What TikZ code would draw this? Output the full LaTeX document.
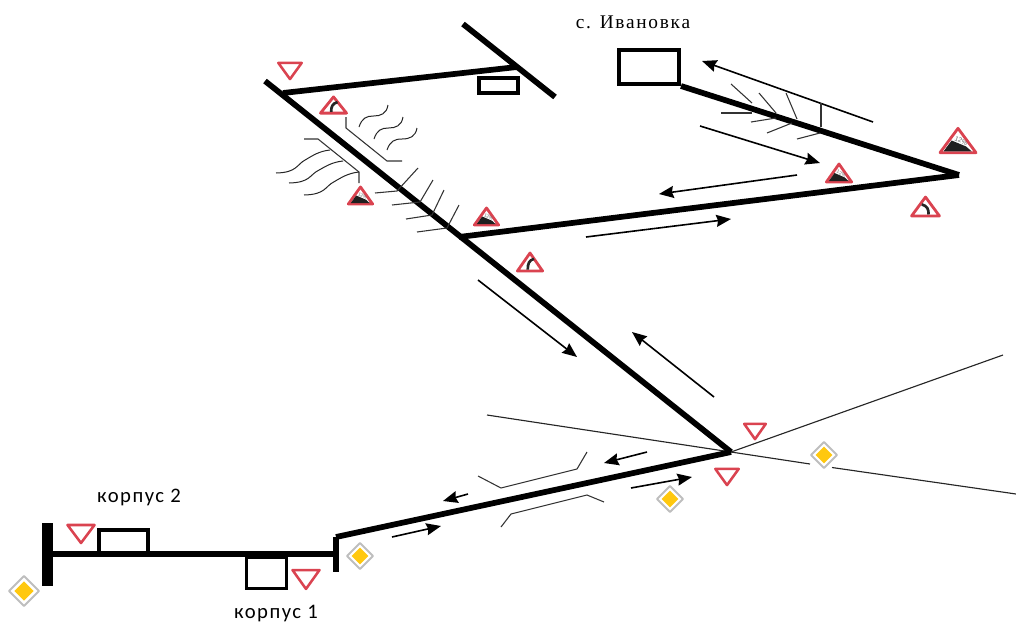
\documentclass[tikz,border=0pt]{standalone}
\usepackage{fontspec}
\setmainfont[LetterSpace=9]{Liberation Serif}
\newfontfamily\labelfont[LetterSpace=7]{Carlito}
\newfontfamily\gradefont{Liberation Sans}
\usetikzlibrary{arrows.meta}
\definecolor{signred}{HTML}{DA4350}
\definecolor{signyellow}{HTML}{FFC80F}
\definecolor{signgrey}{HTML}{BEBEBE}
\tikzset{
  road/.style={line width=4.3pt,black},
  thinrd/.style={line width=0.85pt,black!85},
  barrier/.style={line width=0.8pt,black!80},
  move/.style={line width=1.2pt,black,-{Stealth[length=11pt,width=9pt,inset=1.2pt]}},
  house/.style={draw=black,line width=3pt,inner sep=0pt,fill=white},
  waveline/.style={line width=0.75pt,black!85},
  yieldsign/.style={draw=signred,line width=1.9pt,fill=white,line join=round},
  warnsign/.style={draw=signred,line width=2.1pt,fill=white,line join=round},
}
% x left, y top, width, height (px)
\newcommand{\signyield}[4]{\begin{scope}[shift={(#1,#2)},x={#3*0.75pt},y={-#4*0.75pt}]
  \draw[yieldsign] (0.05,0.05) -- (0.95,0.05) -- (0.5,0.95) -- cycle;\end{scope}}
\newcommand{\signslope}[5]{\begin{scope}[shift={(#1,#2)},x={#3*0.75pt},y={-#4*0.75pt}]
  \draw[warnsign] (0.05,0.95) -- (0.5,0.05) -- (0.95,0.95) -- cycle;
  \fill[black!88] (0.14,0.9) -- (0.84,0.9) -- (0.7,0.72) -- (0.34,0.5) -- cycle;
  \node[rotate=-24,inner sep=0pt,text=black!60,font=\gradefont\fontsize{#5}{#5}\selectfont] (grade#1) at (0.58,0.52) {12\%};
  \end{scope}}
\newcommand{\signcurve}[5]{\begin{scope}[shift={(#1,#2)},x={#3*0.75pt},y={-#4*0.75pt}]
  \draw[warnsign] (0.05,0.95) -- (0.5,0.05) -- (0.95,0.95) -- cycle;
  \ifnum#5=1
    \draw[line width=2pt,black!85] (0.42,0.88) .. controls (0.42,0.58) and (0.46,0.42) .. (0.64,0.34);
  \else
    \draw[line width=2pt,black!85] (0.6,0.88) .. controls (0.6,0.62) and (0.56,0.48) .. (0.38,0.4);
  \fi
  \end{scope}}
\newcommand{\signmain}[3]{\begin{scope}[shift={(#1,#2)}]
  \draw[signgrey,line width=1.5pt,fill=white,line join=round] (-#3,0) -- (0,-#3) -- (#3,0) -- (0,#3) -- cycle;
  \fill[signyellow] (-#3*0.64,0) -- (0,-#3*0.64) -- (#3*0.64,0) -- (0,#3*0.64) -- cycle;
  \end{scope}}
% start point, extent
\newcommand{\waveA}[4]{\begin{scope}[shift={(#1,#2)},x={#3*0.75pt},y={-#4*0.75pt}]
  \draw[waveline] (0,0) .. controls (0.4,0.02) and (0.38,0.38) .. (0.55,0.58) .. controls (0.68,0.76) and (0.8,0.95) .. (1,1);\end{scope}}
\newcommand{\waveB}[4]{\begin{scope}[shift={(#1,#2)},x={#3*0.75pt},y={-#4*0.75pt}]
  \draw[waveline] (0,0) .. controls (0.1,0.4) and (0.25,0.5) .. (0.5,0.5) .. controls (0.75,0.5) and (0.95,0.6) .. (1,1);\end{scope}}
\begin{document}
\begin{tikzpicture}[x=0.75pt,y=-0.75pt]
\useasboundingbox (0,0) rectangle (1016,625);
% junctions
\coordinate (mainTop) at (265,81);
\coordinate (topJ) at (283,93);
\coordinate (midJ) at (459,237);
\coordinate (cross) at (731,452);
\coordinate (apex) at (959,175);
\coordinate (crossA) at (463,24);
\coordinate (crossB) at (555,97);
\coordinate (crossJ) at (517,67);
\coordinate (bend) at (336,537);
\coordinate (barTop) at (336,537);
\coordinate (barBot) at (336,572);
\coordinate (barMid) at (336,554);
\coordinate (leftMid) at (50,554);
\coordinate (leftTop) at (47.5,523);
\coordinate (leftBot) at (47.5,586);
% thin side roads
\coordinate (thinW) at (487,415);
\coordinate (thinNE) at (1003,355);
\coordinate (thinG) at (810,464);
\coordinate (thinH) at (832,467.5);
\coordinate (thinE) at (1016,494);
\draw[thinrd] (thinW) -- (cross);
\draw[thinrd] (cross) -- (thinNE);
\draw[thinrd] (cross) -- (thinG);
\draw[thinrd] (thinH) -- (thinE);
% buildings
\node[house,minimum width=60pt*0.75,minimum height=34pt*0.75] (ivanovkaBox) at (649,67) {};
\node[house,minimum width=39pt*0.75,minimum height=15pt*0.75] (shopBox) at (498.5,85) {};
\node[house,minimum width=49pt*0.75,minimum height=24pt*0.75] (k2Box) at (123.5,542) {};
\node[house,line width=2pt,minimum width=40pt*0.75,minimum height=31pt*0.75] (k1Box) at (266.5,573) {};
% main roads
\draw[road] (mainTop) -- (cross);
\draw[road] (topJ) -- (crossJ);
\draw[road] (crossA) -- (crossB);
\draw[road] (ivanovkaBox.south east) -- (apex);
\draw[road] (apex) -- (midJ);
\draw[road] (cross) -- (bend);
\draw[road] (leftMid) -- (barMid);
\draw[line width=4.4pt] (barTop) -- (barBot);
\draw[line width=8.2pt] (leftTop) -- (leftBot);
% movement arrows
\coordinate (m1a) at (478,280); \coordinate (m1b) at (577,357);
\coordinate (m2a) at (714,397); \coordinate (m2b) at (632,332);
\coordinate (m3a) at (873,122); \coordinate (m3b) at (702,61);
\coordinate (m4a) at (700,126); \coordinate (m4b) at (820,163);
\coordinate (m5a) at (797,175); \coordinate (m5b) at (659,194);
\coordinate (m6a) at (586,237); \coordinate (m6b) at (731,219);
\coordinate (m7a) at (647,452); \coordinate (m7b) at (604,463);
\coordinate (m8a) at (468,494); \coordinate (m8b) at (443,501);
\coordinate (m9a) at (631,488); \coordinate (m9b) at (692,477);
\coordinate (m10a) at (392,537); \coordinate (m10b) at (441,526);
\foreach \n in {1,...,10} \draw[move] (m\n a) -- (m\n b);
% barriers
\coordinate (b1) at (478,476); \coordinate (b2) at (501,488); \coordinate (b3) at (577,469); \coordinate (b4) at (587,452);
\coordinate (c1) at (501,527); \coordinate (c2) at (511,514); \coordinate (c3) at (587,495); \coordinate (c4) at (604,502);
\coordinate (d1) at (346,117); \coordinate (d2) at (346,128); \coordinate (d3) at (387,161); \coordinate (d4) at (402,161);
\coordinate (e1) at (304,139); \coordinate (e2) at (318,139); \coordinate (e3) at (359,172); \coordinate (e4) at (359,183);
\draw[barrier] (b1) -- (b2) -- (b3) -- (b4);
\draw[barrier] (c1) -- (c2) -- (c3) -- (c4);
\draw[barrier] (d1) -- (d2) -- (d3) -- (d4);
\draw[barrier] (e1) -- (e2) -- (e3) -- (e4);
% fishbones on the main road
\coordinate (f1) at (375,193); \coordinate (f2) at (397,191); \coordinate (f3) at (418,168);
\coordinate (g1) at (392,205); \coordinate (g2) at (420,202); \coordinate (g3) at (433,180);
\coordinate (h1) at (406,219); \coordinate (h2) at (432,215); \coordinate (h3) at (444,190);
\coordinate (i1) at (417,232); \coordinate (i2) at (447,228); \coordinate (i3) at (459,205);
\draw[barrier] (f1) -- (f2) -- (f3);
\draw[barrier] (g1) -- (g2) -- (g3);
\draw[barrier] (h1) -- (h2) -- (h3);
\draw[barrier] (i1) -- (i2) -- (i3);
% fishbones on the Ivanovka road
\coordinate (j1) at (731,84); \coordinate (j2) at (752,103);
\coordinate (j3) at (721,113); \coordinate (j4) at (752,113);
\coordinate (j5) at (759,93); \coordinate (j6) at (776,113);
\coordinate (j7) at (751,122); \coordinate (j8) at (776,118);
\coordinate (j9) at (786,93); \coordinate (j10) at (797,119);
\coordinate (j11) at (767,133); \coordinate (j12) at (792,123);
\coordinate (j13) at (821,103); \coordinate (j14) at (821,127);
\coordinate (j15) at (797,139); \coordinate (j16) at (820,133);
\foreach \a/\b in {1/2,3/4,5/6,7/8,9/10,11/12,13/14,15/16} \draw[barrier] (j\a) -- (j\b);
% waves
\waveB{359}{127}{29}{-22}
\waveB{374}{139}{29}{-22}
\waveB{387}{150}{30}{-22}
\waveA{276}{173}{54}{-23}
\waveA{289}{183}{54}{-22}
\waveA{304}{195}{55}{-23}
% signs
\signyield{277}{62}{26}{18}
\signyield{66}{524}{30}{20}
\signyield{291}{569}{30}{21}
\signyield{743}{423}{24}{17}
\signyield{714}{468}{26}{18}
\signcurve{319}{96}{29}{18}{1}
\signslope{347}{186}{27}{19}{3.4}
\signslope{473}{207}{27}{19}{3.4}
\signcurve{516}{252}{28}{20}{1}
\signslope{825}{163}{28}{20}{3.5}
\signslope{938}{127}{40}{27}{5}
\signcurve{910}{196}{31}{21}{2}
\signmain{360}{556}{13}
\signmain{24}{591}{15}
\signmain{670}{499}{13}
\signmain{824}{455}{13}
% labels
\node[font=\fontsize{14.5pt}{16pt}\selectfont,anchor=center] (ivanovkaLabel) at (633,22) {с. Ивановка};
\node[font=\labelfont\fontsize{15.5pt}{17pt}\selectfont,anchor=center] (k2Label) at (139,497) {корпус 2};
\node[font=\labelfont\fontsize{15.5pt}{17pt}\selectfont,anchor=center] (k1Label) at (276,614) {корпус 1};
\end{tikzpicture}
\end{document}
